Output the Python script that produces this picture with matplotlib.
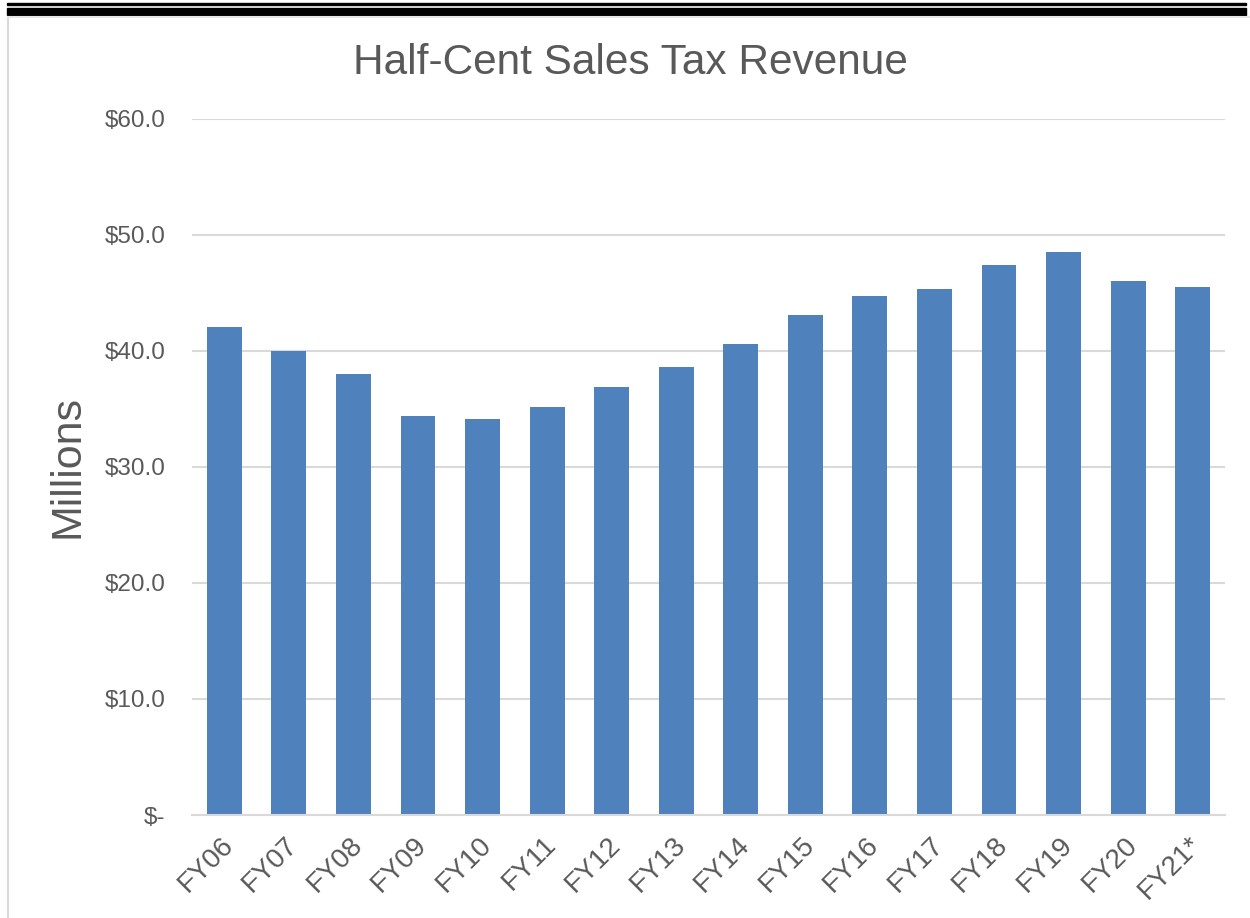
import matplotlib.pyplot as plt
from matplotlib.lines import Line2D
from matplotlib.patches import Rectangle
from matplotlib.transforms import ScaledTranslation

plt.rcParams["font.family"] = ["Liberation Sans", "DejaVu Sans"]

BLUE = "#4F81BD"
TEXT = "#595959"
GRID = "#D9D9D9"

years = ["FY06", "FY07", "FY08", "FY09", "FY10", "FY11", "FY12", "FY13",
         "FY14", "FY15", "FY16", "FY17", "FY18", "FY19", "FY20", "FY21*"]
revenue = [42.1, 40.0, 38.0, 34.4, 34.1, 35.2, 36.9, 38.6,
           40.6, 43.1, 44.7, 45.3, 47.4, 48.5, 46.0, 45.5]
y_ticks = [0, 10, 20, 30, 40, 50, 60]
y_labels = ["$-", "$10.0", "$20.0", "$30.0", "$40.0", "$50.0", "$60.0"]

fig = plt.figure(figsize=(12.5, 9.18), dpi=100)
ax = fig.add_axes([0.1536, 0.1122, 0.98 - 0.1536, 0.8704 - 0.1122])

ax.bar(range(len(years)), revenue, width=0.54, color=BLUE, zorder=3)
ax.set_xlim(-0.5, len(years) - 0.5)
ax.set_ylim(0, 60)

ax.set_yticks(y_ticks)
ax.set_yticklabels(y_labels, fontsize=17.5, color=TEXT)
ax.set_xticks(range(len(years)))
ax.set_xticklabels(years, fontsize=20, color=TEXT, rotation=45,
                   ha="right", rotation_mode="anchor")
ax.tick_params(axis="y", length=0, pad=19)
ax.tick_params(axis="x", length=0, pad=12)
# small horizontal nudge so the labels sit where Excel puts them
shift = ScaledTranslation(-3 / 72, 0, fig.dpi_scale_trans)
for lab in ax.get_xticklabels():
    lab.set_transform(lab.get_transform() + shift)

ax.grid(axis="y", color=GRID, linewidth=1.5, zorder=0)
for s in ("top", "right", "left"):
    ax.spines[s].set_visible(False)
ax.spines["bottom"].set_color(GRID)
ax.spines["bottom"].set_linewidth(1.5)
ax.spines["bottom"].set_zorder(4)

fig.text(0.504, 0.931, "Half-Cent Sales Tax Revenue", fontsize=30.5,
         color=TEXT, ha="center", va="center")
fig.text(67 / 1250, 1 - 467 / 918, "Millions", fontsize=31, color=TEXT,
         rotation=90, ha="center", va="center")

# outer frame and black double rule at the top
W, H = 1250, 918
fig.add_artist(Line2D([7.5 / W, 7.5 / W], [0, 1 - 17 / H], color="#D9D9D9",
                      linewidth=1.5, transform=fig.transFigure))
fig.add_artist(Line2D([7.5 / W, 1], [1 - 17 / H, 1 - 17 / H], color="#E6E6E6",
                      linewidth=1.5, transform=fig.transFigure))
fig.add_artist(Rectangle((7 / W, 1 - 5 / H), 1239 / W, 2 / H, color="black",
                         transform=fig.transFigure))
fig.add_artist(Rectangle((7 / W, 1 - 15 / H), 1239 / W, 7 / H, color="black",
                         transform=fig.transFigure))

fig.savefig("out.png", dpi=100, facecolor="white")
